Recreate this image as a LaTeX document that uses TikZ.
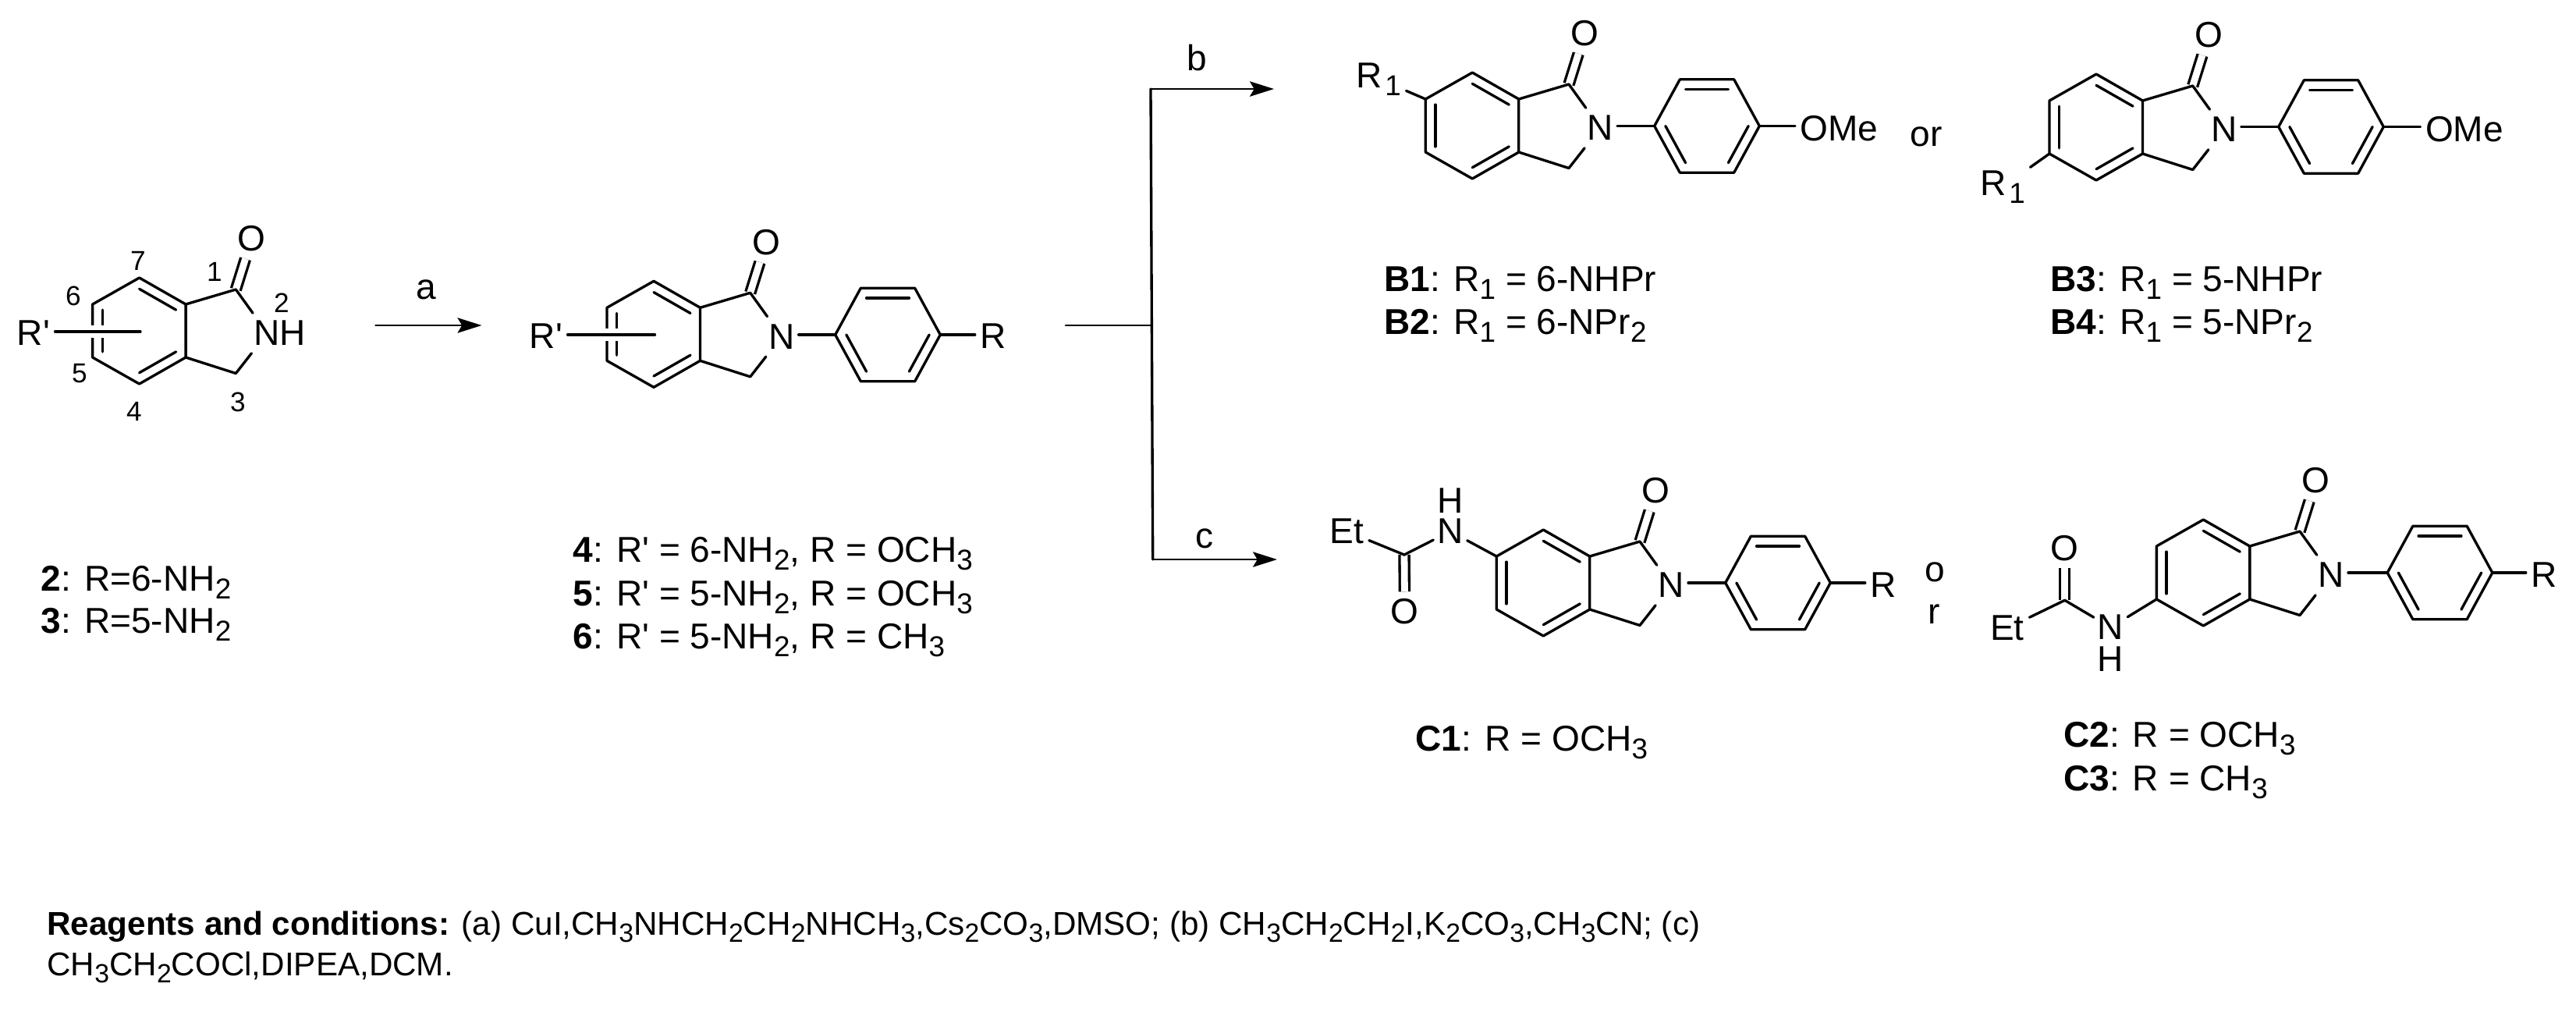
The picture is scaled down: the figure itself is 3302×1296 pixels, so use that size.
\documentclass[tikz,border=0pt]{standalone}
\usepackage{fontspec}
\setmainfont{Liberation Sans}
\usetikzlibrary{calc, arrows.meta, positioning}
\tikzset{
    atom/.style = {inner sep=0pt, minimum width=11.4pt, minimum height=13.7pt, font=\fontsize{13.1pt}{16pt}\selectfont},
    tag/.style = {inner sep=0pt, anchor=base west, font=\fontsize{13.1pt}{16pt}\selectfont},
    group/.style = {inner sep=1.4pt, font=\fontsize{13.1pt}{16pt}\selectfont},
    locant/.style = {inner sep=0pt, font=\fontsize{10pt}{12pt}\selectfont},
    step label/.style = {inner sep=0pt, anchor=base, font=\fontsize{13.1pt}{16pt}\selectfont},
    note/.style = {inner sep=0pt, anchor=base west, font=\fontsize{12pt}{14pt}\selectfont},
    dbl/.style = {double, double distance=2.5pt, line cap=butt},
    crossbond/.style = {preaction={draw=white, line width=4.6pt, line cap=butt}},
    reaction/.style = {-{Stealth[length=8.8pt, width=5.5pt, inset=1.6pt]}, line width=0.8pt}
    }
\makeatletter
\newcommand{\lowidx}[1]{\raisebox{-0.22em}{\fontsize{\fpeval{0.8*\f@size}}{11pt}\selectfont #1}}
\makeatother
\newcommand{\Rprime}{R\textquotesingle}
% short inner line of an aromatic double bond
\newcommand{\inbond}[3]{\draw ($(#1)!0.79!(#2)$) -- ($(#1)!0.79!(#3)$);}
% isoindolinone core: name, centre of the six-membered ring
\newcommand{\core}[3]{
  \begin{scope}[shift={(#2,#3)}]
    \coordinate (#1z) at (0,0);
    \coordinate (#1a) at (0,-68);
    \coordinate (#1b) at (59.5,-34);
    \coordinate (#1d) at (59.5,34);
    \coordinate (#1e) at (0,68);
    \coordinate (#1f) at (-60,34);
    \coordinate (#1g) at (-60,-34);
    \coordinate (#1k) at (123.7,-53);
    \coordinate (#1m) at (123.7,54.5);
    \node[atom] (#1o) at (144,-118) {O};
    \node[atom] (#1n) at (164,3) {N};
    \draw[dbl] (#1k) -- (#1o);
    \draw[line join=round] (#1a) -- (#1b) -- (#1d) -- (#1e) -- (#1f) -- (#1g) -- cycle;
    \draw[line join=round] (#1b) -- (#1k) -- (#1n) -- (#1m) -- (#1d);
    \inbond{#1z}{#1a}{#1b}
    \inbond{#1z}{#1d}{#1e}
    \inbond{#1z}{#1f}{#1g}
  \end{scope}
}
% para-substituted phenyl: name, centre
\newcommand{\aryl}[3]{
  \begin{scope}[shift={(#2,#3)}]
    \coordinate (#1z) at (0,0);
    \coordinate (#1p) at (-67.3,0);
    \coordinate (#1q) at (-34.7,-59.7);
    \coordinate (#1r) at (34.7,-59.7);
    \coordinate (#1s) at (67.3,0);
    \coordinate (#1t) at (34.7,59.7);
    \coordinate (#1u) at (-34.7,59.7);
    \draw[line join=round] (#1p) -- (#1q) -- (#1r) -- (#1s) -- (#1t) -- (#1u) -- cycle;
    \inbond{#1z}{#1q}{#1r}
    \inbond{#1z}{#1p}{#1u}
    \inbond{#1z}{#1s}{#1t}
  \end{scope}
}

\begin{document}
\begin{tikzpicture}[
      x = 0.01cm, y = -0.01cm, % one unit is one pixel of the reference
      line width = 0.95pt,
      line cap = round
    ]
    \useasboundingbox (0,0) rectangle (3302,1296);

    % starting material
    \core{s}{178.6}{424}
    \node[atom] (sh) at (375,427) {H};
    \node[group] (sprime) at (43,427) {\Rprime};
    \coordinate (sprimeend) at (180,425);
    \draw[crossbond] (sprime.east |- sprimeend) -- (sprimeend);
    \node[locant] (s7) at (177,334) {7};
    \node[locant] (s6) at (94,379) {6};
    \node[locant] (s1) at (275,348) {1};
    \node[locant] (s2) at (361,388) {2};
    \node[locant] (s5) at (102,479) {5};
    \node[locant] (s4) at (172,527) {4};
    \node[locant] (s3) at (305,515) {3};
    \node[tag] (l2) at (51,757) {\textbf{2}: R=6-NH\lowidx{2}};
    \node[tag] (l3) at (51,811) {\textbf{3}: R=5-NH\lowidx{2}};

    % step a
    \coordinate (a1) at (481.5,417);
    \coordinate (a2) at (617.5,417);
    \draw[reaction] (a1) -- (a2);
    \node[step label] (al) at (546.6,383.5) {a};

    % amines 4-6
    \core{m}{838}{428.3}
    \aryl{mr}{1138}{429}
    \node[group] (mprime) at (700,431) {\Rprime};
    \coordinate (mprimeend) at (839.5,429);
    \draw[crossbond] (mprime.east |- mprimeend) -- (mprimeend);
    \draw (mn.east |- mrp) -- (mrp);
    \node[group] (mrr) at (1273,431) {R};
    \draw (mrs) -- (mrr.west |- mrs);
    \node[tag] (l4) at (733,720) {\textbf{4}: \Rprime{} = 6-NH\lowidx{2}, R = OCH\lowidx{3}};
    \node[tag] (l5) at (733,776) {\textbf{5}: \Rprime{} = 5-NH\lowidx{2}, R = OCH\lowidx{3}};
    \node[tag] (l6) at (733,831) {\textbf{6}: \Rprime{} = 5-NH\lowidx{2}, R = CH\lowidx{3}};

    % branch to steps b and c
    \coordinate (br0) at (1366,417);
    \coordinate (br1) at (1476.5,417);
    \coordinate (brb) at (1475,114);
    \coordinate (brc) at (1477.7,717);
    \coordinate (brbend) at (1633,114);
    \coordinate (brcend) at (1637,717);
    \draw[line width=0.8pt] (br0) -- (br1);
    \draw (brb) -- (brc);
    \draw[reaction] (brb) -- (brbend);
    \draw[reaction] (brc) -- (brcend);
    \node[step label] (bl) at (1534,90) {b};
    \node[step label] (cl) at (1544,702) {c};

    % B1 and B2
    \core{ba}{1887.3}{161}
    \aryl{bar}{2188}{161.5}
    \draw (ban.east |- barp) -- (barp);
    \node[group] (baome) at (2357.5,164.5) {OMe};
    \draw (bars) -- (baome.west |- bars);
    \node[group, anchor=base west] (bar1) at (1732,112) {R\kern1pt\lowidx{1}};
    \draw (bar1) -- (bag);
    \node[tag] (lb1) at (1773,373) {\textbf{B1}: R\lowidx{1} = 6-NHPr};
    \node[tag] (lb2) at (1773,428) {\textbf{B2}: R\lowidx{1} = 6-NPr\lowidx{2}};
    \node[tag] (or1) at (2447,187) {or};

    % B3 and B4
    \core{bb}{2687}{163}
    \aryl{bbr}{2988}{162.5}
    \draw (bbn.east |- bbrp) -- (bbrp);
    \node[group] (bbome) at (3159,165.5) {OMe};
    \draw (bbrs) -- (bbome.west |- bbrs);
    \node[group, anchor=base west] (bbr1) at (2532,250) {R\kern1pt\lowidx{1}};
    \draw (bbr1) -- (bbf);
    \node[tag] (lb3) at (2627,373) {\textbf{B3}: R\lowidx{1} = 5-NHPr};
    \node[tag] (lb4) at (2627,428) {\textbf{B4}: R\lowidx{1} = 5-NPr\lowidx{2}};

    % C1
    \core{ca}{1978.3}{747}
    \aryl{car}{2279}{747}
    \draw (can.east |- carp) -- (carp);
    \node[group] (carr) at (2414,749.5) {R};
    \draw (cars) -- (carr.west |- cars);
    \node[atom, minimum height=11pt] (caan) at (1859,681) {N};
    \node[group, inner sep=0pt] (caah) at (1859,641.7) {H};
    \node[atom] (caao) at (1800.7,784) {O};
    \node[group] (caet) at (1726.5,681) {Et};
    \coordinate (caac) at (1800,711);
    \draw[dbl] (caac) -- (caao);
    \draw[line join=round] (caet) -- (caac) -- (caan) -- (cag);
    \node[tag] (lc1) at (1813,962) {\textbf{C1}: R = OCH\lowidx{3}};
    \node[tag] (or2) at (2466,745) {o};
    \node[tag] (or3) at (2470,799) {r};

    % C2 and C3
    \core{cb}{2824.3}{734}
    \aryl{cbr}{3127.5}{734}
    \draw (cbn.east |- cbrp) -- (cbrp);
    \node[group] (cbrr) at (3261,737) {R};
    \draw (cbrs) -- (cbrr.west |- cbrs);
    \node[atom, minimum height=11pt] (cban) at (2705.5,804) {N};
    \node[group, inner sep=0pt] (cbah) at (2705.5,845) {H};
    \node[atom] (cbao) at (2646.7,702.3) {O};
    \node[group] (cbet) at (2573,805) {Et};
    \coordinate (cbac) at (2646.7,769.3);
    \draw[dbl] (cbac) -- (cbao);
    \draw[line join=round] (cbet) -- (cbac) -- (cban) -- (cbf);
    \node[tag] (lc2) at (2643.5,957) {\textbf{C2}: R = OCH\lowidx{3}};
    \node[tag] (lc3) at (2643.5,1013) {\textbf{C3}: R = CH\lowidx{3}};

    \node[note] (rg1) at (58.7,1198) {\textbf{Reagents and conditions:} (a) CuI,CH\lowidx{3}NHCH\lowidx{2}CH\lowidx{2}NHCH\lowidx{3},Cs\lowidx{2}CO\lowidx{3},DMSO; (b) CH\lowidx{3}CH\lowidx{2}CH\lowidx{2}I,K\lowidx{2}CO\lowidx{3},CH\lowidx{3}CN; (c)};
    \node[note] (rg2) at (58.7,1250) {CH\lowidx{3}CH\lowidx{2}COCl,DIPEA,DCM.};
\end{tikzpicture}
\end{document}
